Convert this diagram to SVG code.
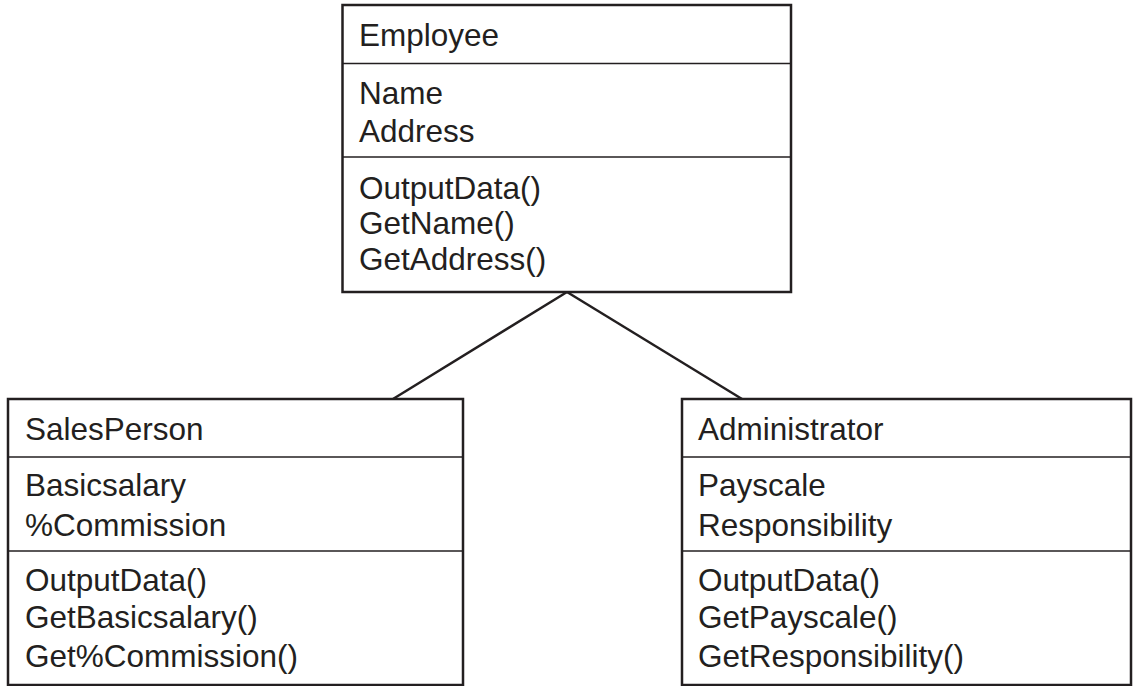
<svg xmlns="http://www.w3.org/2000/svg" width="1142" height="686" viewBox="0 0 1142 686">
<style>
.box{fill:#fff;stroke:#231f20;stroke-width:2.5}
.div{stroke:#231f20;stroke-width:1.5}
.conn{stroke:#231f20;stroke-width:2.5;fill:none}
text{font-family:"Liberation Sans",Arial,sans-serif;font-size:31.5px;fill:#231f20}
</style>
<rect width="1142" height="686" fill="#fff"/>
<g id="connectors">
<line class="conn" x1="567" y1="292" x2="393" y2="399"/>
<line class="conn" x1="567" y1="292" x2="742" y2="399"/>
</g>
<g id="employee">
<rect class="box" x="342.5" y="5" width="448.5" height="287"/>
<line class="div" x1="342.5" y1="63.5" x2="791" y2="63.5"/>
<line class="div" x1="342.5" y1="157" x2="791" y2="157"/>
<text x="359" y="46">Employee</text>
<text x="359" y="104">Name</text>
<text x="359" y="142">Address</text>
<text x="359" y="199">OutputData()</text>
<text x="359" y="234">GetName()</text>
<text x="359" y="270">GetAddress()</text>
</g>
<g id="salesperson">
<rect class="box" x="8" y="399" width="455" height="286"/>
<line class="div" x1="8" y1="457" x2="463" y2="457"/>
<line class="div" x1="8" y1="551" x2="463" y2="551"/>
<text x="25" y="440">SalesPerson</text>
<text x="25" y="496">Basicsalary</text>
<text x="25" y="536">%Commission</text>
<text x="25" y="591">OutputData()</text>
<text x="25" y="628">GetBasicsalary()</text>
<text x="25" y="667">Get%Commission()</text>
</g>
<g id="administrator">
<rect class="box" x="682" y="399" width="449" height="286"/>
<line class="div" x1="682" y1="457" x2="1131" y2="457"/>
<line class="div" x1="682" y1="551" x2="1131" y2="551"/>
<text x="698" y="440">Administrator</text>
<text x="698" y="496">Payscale</text>
<text x="698" y="536">Responsibility</text>
<text x="698" y="591">OutputData()</text>
<text x="698" y="628">GetPayscale()</text>
<text x="698" y="667">GetResponsibility()</text>
</g>
</svg>
